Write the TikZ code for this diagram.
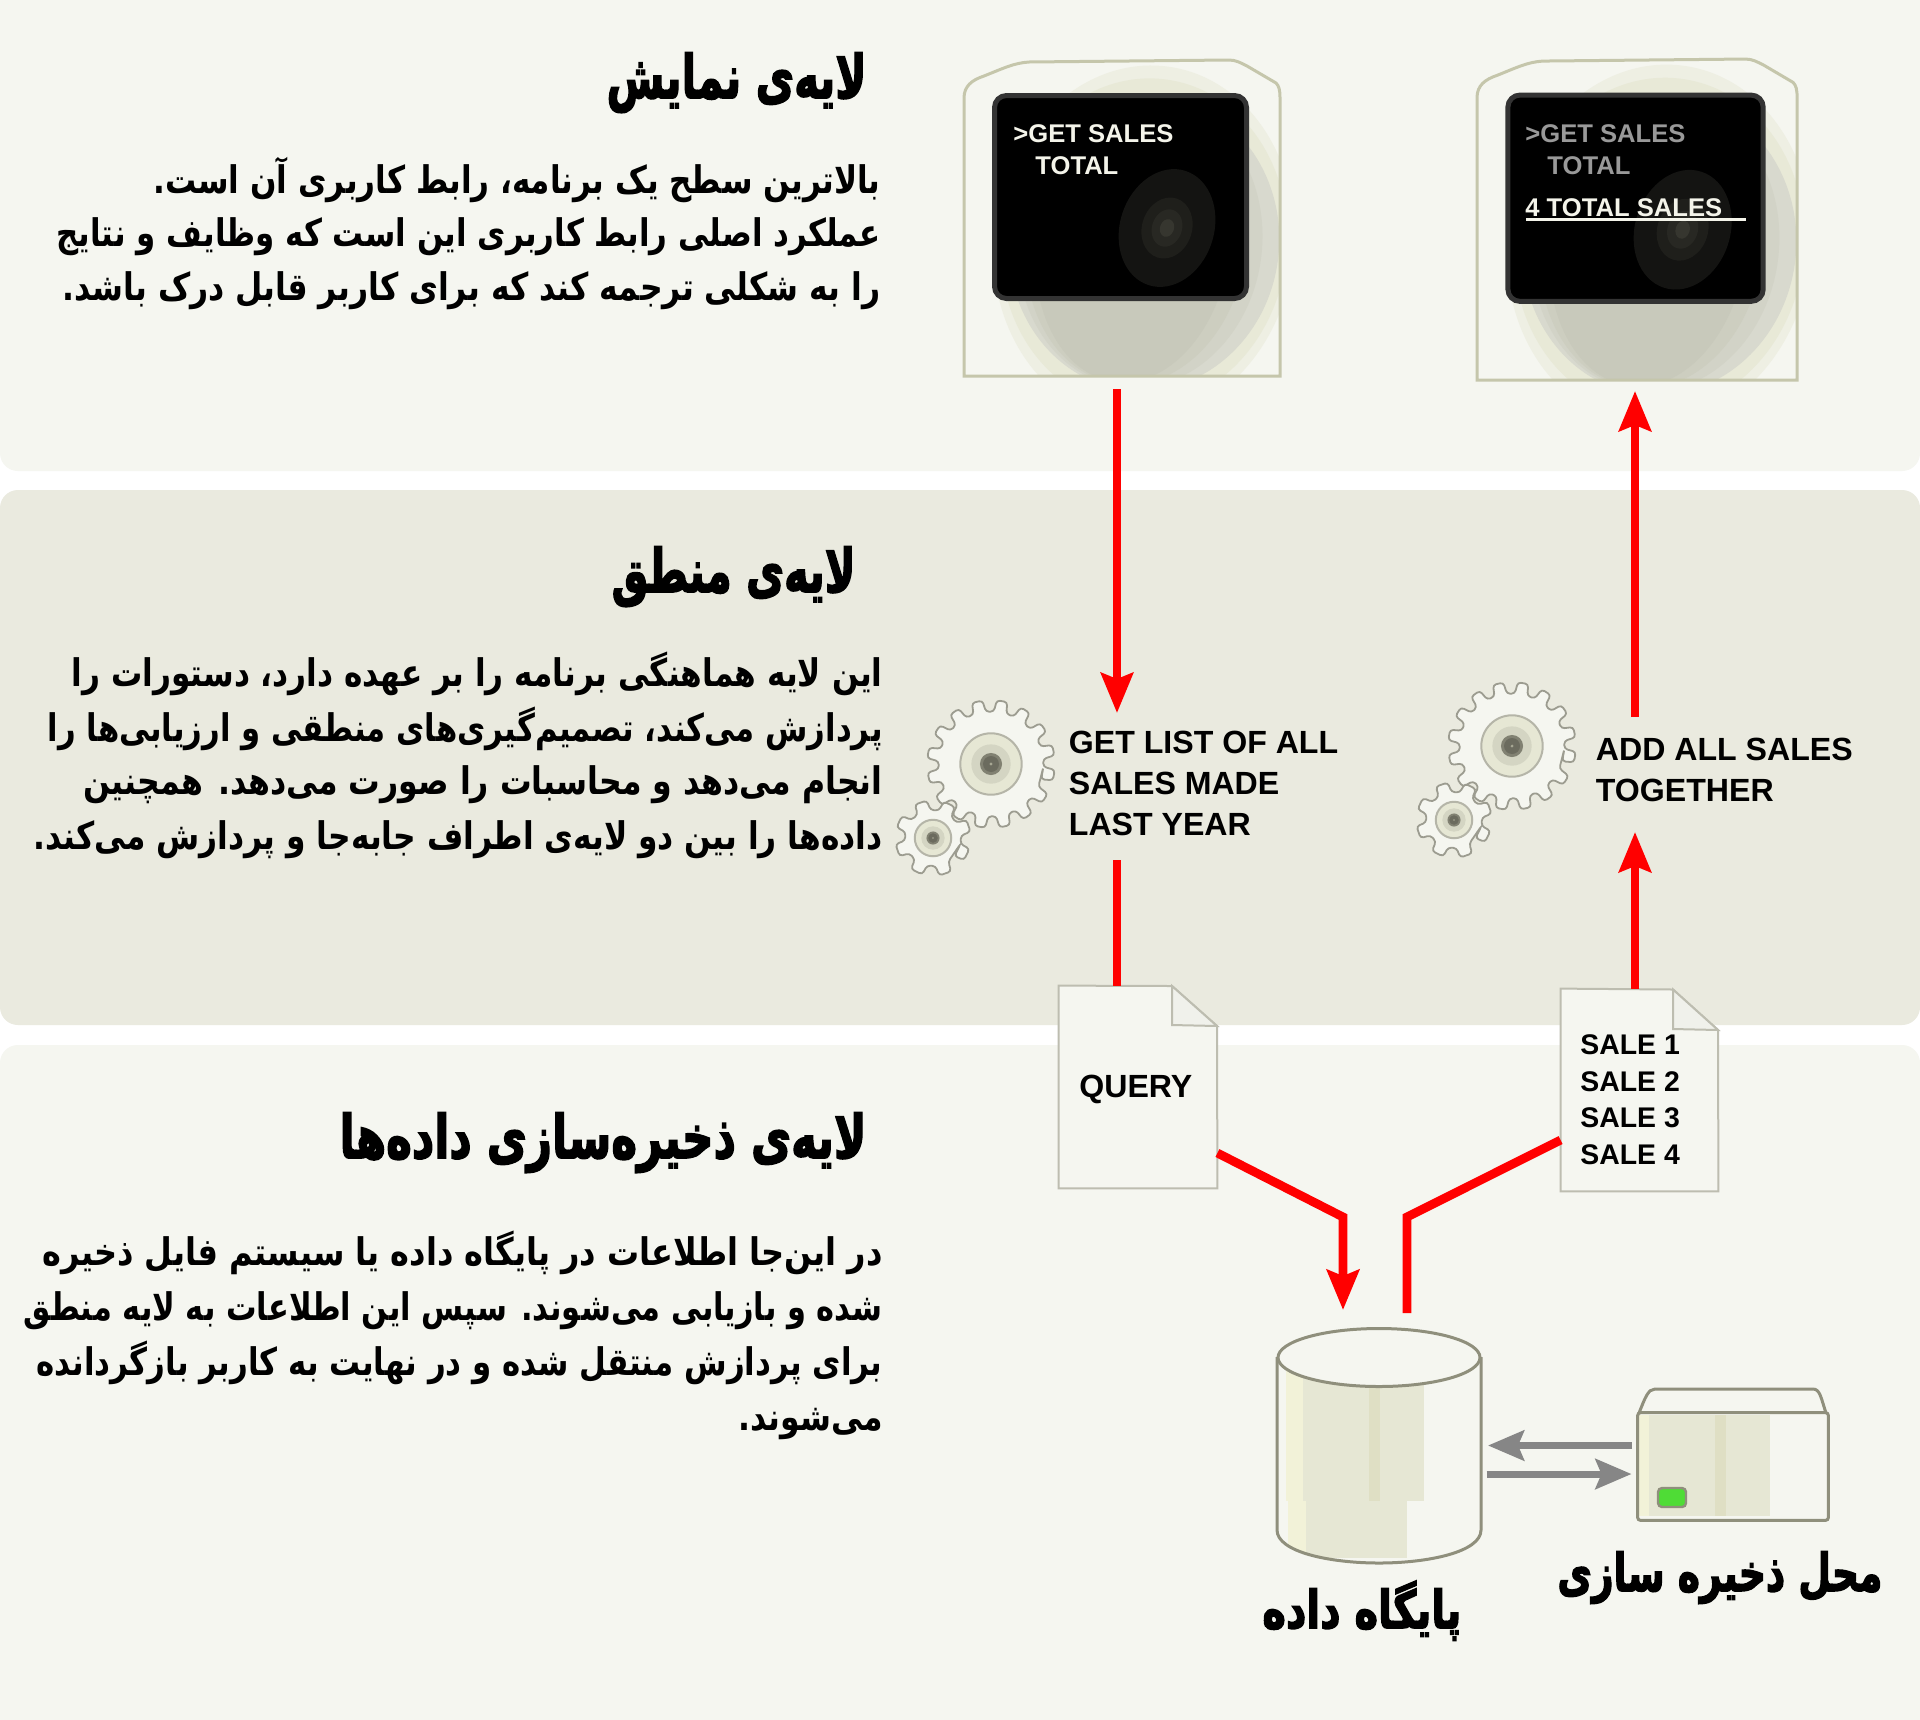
\documentclass[tikz,border=0pt]{standalone}
\usepackage{fontspec}
\usepackage{graphicx}
\usetikzlibrary{arrows.meta,calc}
\setmainfont{Liberation Sans}
\newfontfamily\fa[Script=Arabic]{DejaVu Sans}
\newfontfamily\fah[Script=Arabic,BoldFeatures={FakeBold=3}]{DejaVu Sans}
\TeXXeTstate=1
\newcommand\faL[2]{\resizebox{#1}{\height}{#2}}
\definecolor{bandA}{HTML}{F5F6F0}
\definecolor{bandB}{HTML}{EAEADF}
\definecolor{redline}{HTML}{FF0000}
\definecolor{grayline}{HTML}{868686}
\definecolor{edgeol}{HTML}{8F8F7C}
\definecolor{shadeA}{HTML}{F2F2D8}
\definecolor{shadeB}{HTML}{E6E7D4}
\definecolor{shadeC}{HTML}{DFDFC4}
\definecolor{ledgreen}{HTML}{4FDC36}
\definecolor{docedge}{HTML}{BDBDB0}
\definecolor{gearedge}{HTML}{9C9C90}
\definecolor{hubedge}{HTML}{B5B5A8}
\definecolor{devedge}{HTML}{C5C6AB}
\definecolor{devgray}{HTML}{C8C9BB}
\definecolor{scrtext}{HTML}{F4F4EA}
\tikzset{
  band/.style={rounded corners=9pt,draw=none},
  redarrow/.style={draw=redline,line width=4pt,-{Stealth[length=20pt,width=16pt,inset=3pt]},miter limit=10},
  redplain/.style={draw=redline,line width=4pt},
  grayarrow/.style={draw=grayline,line width=3.5pt,-{Stealth[length=18pt,width=15pt,inset=3pt]}},
  doc/.style={fill=bandA,draw=docedge,line width=1pt},
  lab/.style={anchor=base west,inner sep=0pt,font=\fontsize{16.05}{20}\selectfont\bfseries},
  sale/.style={anchor=base west,inner sep=0pt,font=\fontsize{14.2}{18}\selectfont\bfseries},
  scr/.style={anchor=base west,inner sep=0pt,font=\fontsize{12.8}{16}\selectfont\bfseries},
  hd/.style={anchor=base east,inner sep=0pt,font=\fontsize{30}{36}\selectfont\fah\bfseries},
  bd/.style={anchor=base east,inner sep=0pt,font=\fontsize{19}{24}\selectfont\fa\bfseries},
  capt/.style={anchor=base west,inner sep=0pt,font=\fontsize{26}{32}\selectfont\fah\bfseries},
}
% gear: centre x, centre y, outer radius, teeth, phase, root ratio
\newcommand\gearat[6]{%
  \begin{scope}[shift={(#1,#2)}]
    \pgfmathsetmacro\gp{360/#4}
    \pgfmathsetmacro\gro{#3}
    \pgfmathsetmacro\grb{#3*#6}
    \pgfmathsetmacro\grh{#3*0.48}
    \pgfmathsetmacro\gph{#5}
    \draw[fill=bandA,draw=gearedge,line width=0.9pt,rounded corners=1.6pt]
      ({\gph-0.31*\gp}:\grb)
      \foreach \i [evaluate=\i as \a using \i*\gp+\gph] in {1,...,#4} {
        -- ({\a-0.31*\gp}:\grb) -- ({\a-0.21*\gp}:\gro) -- ({\a+0.21*\gp}:\gro) -- ({\a+0.31*\gp}:\grb)
      } -- cycle;
    \draw[fill=shadeB,draw=hubedge,line width=1pt] (0,0) circle [radius=\grh];
    \fill[fill=black!8!shadeB] (0,0) circle [radius={\grh*0.64}];
    \fill[fill=black!42!shadeC] (0,0) circle [radius={\grh*0.36}];
    \fill[fill=black!52!shadeC] (0,0) circle [radius={\grh*0.26}];
    \fill[fill=black!25!shadeC] (0,0) circle [radius={\grh*0.05}];
  \end{scope}}
% device body in local coordinates
\newcommand\deviceoutline{(0,318) -- (0,40) .. controls (0,28) and (8,22) .. (20,18) .. controls (40,10) and (50,5) .. (65,4) -- (265,2) .. controls (272,2) and (277,5) .. (283,8) -- (312,25) .. controls (315,28) and (316,32) .. (316,40) -- (316,318) -- cycle}
\newcommand\devicebody{%
  \begin{scope}
    \clip \deviceoutline;
    \fill[bandA] (-5,-5) rectangle (325,325);
    \fill[shadeB!45!bandA] (180,185) ellipse [x radius=150,y radius=178,rotate=-8];
    \fill[shadeB!90!bandA] (180,185) ellipse [x radius=143,y radius=165,rotate=-8];
    \fill[devgray!65!bandA] (180,185) ellipse [x radius=135,y radius=148,rotate=-8];
    \fill[devgray!78!bandA] (176,185) ellipse [x radius=122,y radius=145,rotate=-8];
    \fill[devgray!90!bandA] (172,185) ellipse [x radius=110,y radius=142,rotate=-8];
    \fill[devgray] (169,185) ellipse [x radius=97,y radius=140,rotate=-8];
  \end{scope}
  \draw[draw=devedge,line width=1.5pt] \deviceoutline;
  \draw[fill=black,draw=black!80,line width=2.5pt,rounded corners=6pt] (30.5,37.5) rectangle (282.5,240.5);
  \fill[fill=black!91!shadeC] (203,170) ellipse [x radius=47,y radius=60,rotate=-18];
  \fill[fill=black!86!shadeC] (203,170) ellipse [x radius=25,y radius=31,rotate=-18];
  \fill[fill=black!82!shadeC] (203,170) ellipse [x radius=15,y radius=19,rotate=-18];
  \fill[fill=black!76!shadeC] (203,170) ellipse [x radius=7,y radius=9,rotate=-18];
}
\begin{document}
\begin{tikzpicture}[x=0.5pt,y=-0.5pt]
\useasboundingbox (0,0) rectangle (1920,1719);
\fill[white] (0,0) rectangle (1920,1719);
\begin{scope}
\clip (0,0) rectangle (1920,1719);
\fill[bandA,band] (0,-40) rectangle (1920,471);
\fill[bandB,band] (0,490) rectangle (1920,1025);
\fill[bandA,band] (0,1045) rectangle (1920,1760);
\end{scope}

% devices
\begin{scope}[shift={(964,58)}]\devicebody\end{scope}
\begin{scope}[shift={(1477,57)},xscale=1.013,yscale=1.016]\devicebody\end{scope}
\node[scr,text=scrtext] (s1a) at (1013,142) {>GET SALES};
\node[scr,text=scrtext] (s1b) at (1035,174) {TOTAL};
\node[scr,text=black!40!white] (s2a) at (1525,142) {>GET SALES};
\node[scr,text=black!40!white] (s2b) at (1547,174) {TOTAL};
\node[scr,text=scrtext] (s2c) at (1525,216.5) {4 TOTAL SALES};
\coordinate (ulA) at (1526,219.5);
\coordinate (ulB) at (1746,219.5);
\draw[scrtext,line width=1.2pt] (ulA) -- (ulB);

% gears
\gearat{991}{764}{64}{16}{10}{0.82}
\gearat{933}{838}{38}{8}{26}{0.74}
\gearat{1512}{746}{64}{16}{10}{0.82}
\gearat{1454}{820}{38}{8}{26}{0.74}

% documents
\node[inner sep=0pt,minimum width=79pt,minimum height=101pt] (querydoc) at (1138,1087) {};
\node[inner sep=0pt,minimum width=78.5pt,minimum height=101pt] (salesdoc) at (1639.5,1090) {};
\draw[doc] (querydoc.south west) -- (querydoc.north west) -- (1172,986) -- (1217,1026) -- (querydoc.south east) -- cycle;
\draw[doc,fill=black!2!bandA] (1172,986) -- (1172,1025) -- (1217,1026) -- cycle;
\draw[doc] (salesdoc.south west) -- (salesdoc.north west) -- (1673,989.5) -- (1718,1030) -- (salesdoc.south east) -- cycle;
\draw[doc,fill=black!2!bandA] (1673,989.5) -- (1673,1029) -- (1718,1030) -- cycle;
\node[lab] (query) at (1079,1097) {QUERY};
\node[sale] (sa) at (1580,1054.5) {SALE 1};
\node[sale] (sb) at (1580,1091) {SALE 2};
\node[sale] (sc) at (1580,1127.5) {SALE 3};
\node[sale] (sd) at (1580,1164) {SALE 4};

% labels middle
\node[lab] (g1) at (1068.5,753.5) {GET LIST OF ALL};
\node[lab] (g2) at (1068.5,794) {SALES MADE};
\node[lab] (g3) at (1068.5,835) {LAST YEAR};
\node[lab] (a1) at (1595.5,760) {ADD ALL SALES};
\node[lab] (a2) at (1595.5,801) {TOGETHER};

% database
\node[inner sep=0pt,minimum width=102pt,minimum height=117pt] (db) at (1379,1445) {};
\begin{scope}
  \clip (1277,1357) -- (1277,1530) .. controls (1277,1552) and (1330,1563) .. (1379,1563) .. controls (1428,1563) and (1481,1552) .. (1481,1530) -- (1481,1357) -- cycle;
  \fill[bandA] (1270,1320) rectangle (1490,1570);
  \fill[shadeA] (1286,1357) rectangle (1303,1501);
  \fill[shadeB] (1303,1357) rectangle (1424,1501);
  \fill[shadeC] (1369,1357) rectangle (1380,1501);
  \fill[shadeA] (1288,1501) rectangle (1306,1558);
  \fill[shadeB] (1306,1501) rectangle (1407,1558);
\end{scope}
\draw[edgeol,line width=1.5pt] (1277,1357) -- (1277,1530) .. controls (1277,1552) and (1330,1563) .. (1379,1563) .. controls (1428,1563) and (1481,1552) .. (1481,1530) -- (1481,1357);
\draw[edgeol,fill=bandA,line width=1.5pt] (1379,1357.5) ellipse [x radius=101,y radius=29];

% storage
\node[inner sep=0pt,minimum width=95pt,minimum height=53.5pt] (store) at (1733,1466.5) {};
\draw[edgeol,fill=bandA,line width=1.5pt] (1639,1413) .. controls (1645,1398) and (1648,1389) .. (1655,1389) -- (1813,1389) .. controls (1820,1389) and (1821,1398) .. (1826,1413) -- cycle;
\fill[bandA] (1638,1413) rectangle (1828,1520);
\fill[shadeA] (1639,1415) rectangle (1649,1516);
\fill[shadeB] (1649,1415) rectangle (1770,1516);
\fill[shadeC] (1715,1415) rectangle (1726,1516);
\draw[edgeol,line width=1.5pt,rounded corners=1.5pt] (store.north west) rectangle (store.south east);
\draw[edgeol,fill=ledgreen,line width=1.2pt,rounded corners=2pt] (1658,1488) rectangle (1686,1507);

% connectors
\coordinate (d1b) at (1117,389);
\coordinate (t1) at (1117,713);
\draw[redarrow] (d1b) -- (t1);
\coordinate (l2a) at (1117,860);
\draw[redplain] (l2a) -- (l2a |- querydoc.north);
\coordinate (bendq) at (1343,1217);
\coordinate (tipq) at (1343,1310);
\draw[redarrow,line width=4.4pt] (querydoc.east |- 0,1153) -- (bendq) -- (tipq);
\coordinate (bends) at (1407,1217);
\coordinate (ends) at (1407,1313);
\draw[redplain,line width=4.4pt] (salesdoc.west |- 0,1140) -- (bends) -- (ends);
\coordinate (tipa) at (1635,832);
\draw[redarrow] (tipa |- salesdoc.north) -- (tipa);
\coordinate (l5a) at (1635,717);
\coordinate (tipb) at (1635,391);
\draw[redarrow] (l5a) -- (tipb);
\coordinate (gu) at (1632,1445.5);
\coordinate (gv) at (1488,1445.5);
\coordinate (gw) at (1486.5,1474);
\coordinate (gx) at (1631.5,1474);
\draw[grayarrow] (gu) -- (gv);
\draw[grayarrow] (gw) -- (gx);

% Persian text
\node[hd] (h1) at (867,98) {\faL{130pt}{\beginR لایه‌ی نمایش\endR}};
\node[bd] (b11) at (881,193) {\faL{363.5pt}{\beginR بالاترین سطح یک برنامه، رابط کاربری آن است.\endR}};
\node[bd] (b12) at (881,246) {\faL{412pt}{\beginR عملکرد اصلی رابط کاربری این است که وظایف و نتایج\endR}};
\node[bd] (b13) at (881,300) {\faL{409pt}{\beginR را به شکلی ترجمه کند که برای کاربر قابل درک باشد.\endR}};
\node[hd] (h2) at (856,592) {\faL{122pt}{\beginR لایه‌ی منطق\endR}};
\node[bd] (b21) at (883,686) {\faL{405.5pt}{\beginR این لایه هماهنگی برنامه را بر عهده دارد، دستورات را\endR}};
\node[bd] (b22) at (883,741) {\faL{417.5pt}{\beginR پردازش می‌کند، تصمیم‌گیری‌های منطقی و ارزیابی‌ها را\endR}};
\node[bd] (b23) at (883,794) {\faL{399.5pt}{\beginR انجام می‌دهد و محاسبات را صورت می‌دهد. همچنین\endR}};
\node[bd] (b24) at (883,849) {\faL{424.5pt}{\beginR داده‌ها را بین دو لایه‌ی اطراف جابه‌جا و پردازش می‌کند.\endR}};
\node[hd] (h3) at (867,1158) {\faL{263.5pt}{\beginR لایه‌ی ذخیره‌سازی داده‌ها\endR}};
\node[bd] (b31) at (883,1265) {\faL{420pt}{\beginR در این‌جا اطلاعات در پایگاه داده یا سیستم فایل ذخیره\endR}};
\node[bd] (b32) at (883,1320) {\faL{429.5pt}{\beginR شده و بازیابی می‌شوند. سپس این اطلاعات به لایه منطق\endR}};
\node[bd] (b33) at (883,1375) {\faL{423pt}{\beginR برای پردازش منتقل شده و در نهایت به کاربر بازگردانده\endR}};
\node[bd] (b34) at (883,1430) {\faL{72pt}{\beginR می‌شوند.\endR}};
\node[capt] (dbl) at (1262,1628) {\faL{99.5pt}{\beginR پایگاه داده\endR}};
\node[capt] (stl) at (1557,1591) {\faL{162.5pt}{\beginR محل ذخیره سازی\endR}};
\end{tikzpicture}
\end{document}
